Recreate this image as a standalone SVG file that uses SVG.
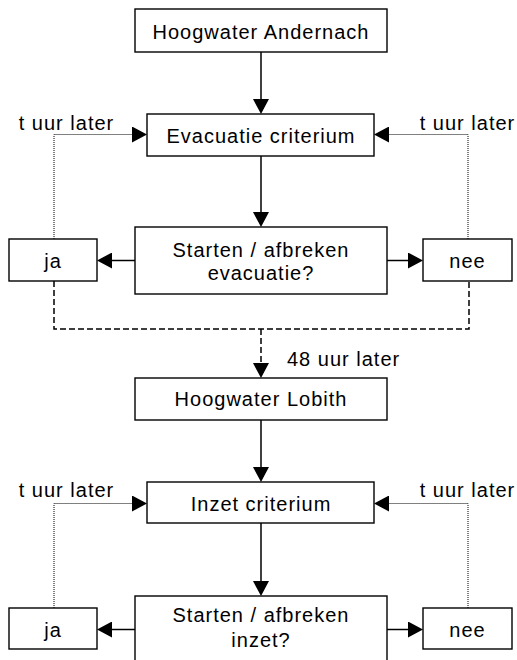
<svg xmlns="http://www.w3.org/2000/svg" width="517" height="660" viewBox="0 0 517 660">
<defs>
<style>
.box{fill:#fff;stroke:#000;stroke-width:1.4}
.t{font-family:"Liberation Sans",Arial,sans-serif;font-size:20px;letter-spacing:1px;fill:#000;text-anchor:middle}
.solid{fill:none;stroke:#000;stroke-width:1.5}
.dot{fill:none;stroke:#000;stroke-width:1;stroke-dasharray:1 1}
.dash{fill:none;stroke:#000;stroke-width:1.5;stroke-dasharray:6 3}
</style>
<marker id="ah" viewBox="0 0 15 16" refX="0" refY="8" markerWidth="15" markerHeight="16" markerUnits="userSpaceOnUse" orient="auto">
<path d="M0,0 L15,8 L0,16 z" fill="#000"/>
</marker>
</defs>
<g id="connectors">
<path class="solid" d="M261,52 V99" marker-end="url(#ah)"/>
<path class="solid" d="M261,156 V212" marker-end="url(#ah)"/>
<path class="solid" d="M135,260.5 H112" marker-end="url(#ah)"/>
<path class="solid" d="M387,260.5 H408" marker-end="url(#ah)"/>
<path class="dot" d="M54,239 V134.5 H132" marker-end="url(#ah)"/>
<path class="dot" d="M468,239 V134.5 H389" marker-end="url(#ah)"/>
<path class="dash" d="M54,281 V329 H469 V281"/>
<path class="dash" d="M261,329 V363" marker-end="url(#ah)"/>
<path class="solid" d="M261,420 V467" marker-end="url(#ah)"/>
<path class="dot" d="M54,608 V503.5 H132" marker-end="url(#ah)"/>
<path class="dot" d="M468,608 V503.5 H389" marker-end="url(#ah)"/>
<path class="solid" d="M261,523 V581" marker-end="url(#ah)"/>
<path class="solid" d="M135,629.5 H112" marker-end="url(#ah)"/>
<path class="solid" d="M387,629.5 H408" marker-end="url(#ah)"/>
<text class="t" x="66.5" y="130">t uur later</text>
<text class="t" x="467.5" y="130">t uur later</text>
<text class="t" x="287" y="365.5" style="text-anchor:start">48 uur later</text>
<text class="t" x="66.5" y="496.5">t uur later</text>
<text class="t" x="467.5" y="496.5">t uur later</text>
</g>
<g id="n1"><rect class="box" x="135" y="9" width="252" height="43"/><text class="t" x="261" y="39">Hoogwater Andernach</text></g>
<g id="n2"><rect class="box" x="147" y="114" width="227" height="42"/><text class="t" x="261" y="143">Evacuatie criterium</text></g>
<g id="n3"><rect class="box" x="135" y="227" width="252" height="67"/><text class="t" x="261" y="257">Starten / afbreken</text><text class="t" x="261" y="279.5">evacuatie?</text></g>
<g id="n3ja"><rect class="box" x="9" y="239" width="88" height="42"/><text class="t" x="53" y="267.5">ja</text></g>
<g id="n3nee"><rect class="box" x="423" y="239" width="89" height="42"/><text class="t" x="467.5" y="267.5">nee</text></g>
<g id="n4"><rect class="box" x="135" y="378" width="252" height="42"/><text class="t" x="261" y="405.5">Hoogwater Lobith</text></g>
<g id="n5"><rect class="box" x="147" y="482" width="227" height="41"/><text class="t" x="261" y="511">Inzet criterium</text></g>
<g id="n6"><rect class="box" x="135" y="596" width="252" height="72"/><text class="t" x="261" y="622">Starten / afbreken</text><text class="t" x="261" y="646.5">inzet?</text></g>
<g id="n6ja"><rect class="box" x="9" y="608" width="88" height="41"/><text class="t" x="53" y="636.5">ja</text></g>
<g id="n6nee"><rect class="box" x="423" y="608" width="89" height="41"/><text class="t" x="467.5" y="636.5">nee</text></g>
</svg>
